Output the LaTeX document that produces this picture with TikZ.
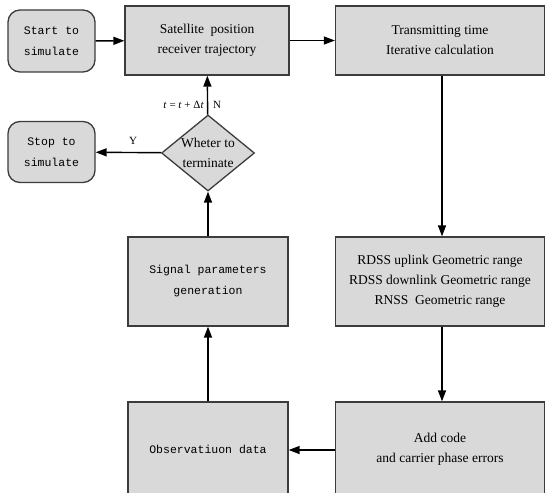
\documentclass[tikz,border=0pt]{standalone}
\usepackage{fontspec}
\setmainfont{Liberation Serif}
\setmonofont{Liberation Mono}
\usetikzlibrary{shapes.geometric,arrows.meta}
\definecolor{boxfill}{RGB}{217,217,217}
\definecolor{boxline}{RGB}{60,60,60}
\tikzset{
  box/.style={draw=boxline, line width=1.3pt, fill=boxfill, inner sep=0pt, align=center,
    font=\fontsize{13.5}{20}\selectfont},
  monobox/.style={box, font=\ttfamily\fontsize{11.5}{21}\selectfont},
  roundbox/.style={monobox, rounded corners=12pt},
  decision/.style={box, shape=diamond, aspect=1.22, minimum width=93pt, minimum height=76pt,
    font=\fontsize{13.5}{20}\selectfont},
  flow/.style={line width=1.4pt, -{Triangle[length=11pt,width=8pt]}},
  lbl/.style={inner sep=0pt, font=\fontsize{11}{12}\selectfont}
}
\begin{document}
\begin{tikzpicture}[x=1pt,y=-1pt]
\useasboundingbox (0,0) rectangle (545,492);
\clip (0,0) rectangle (545,492);
\node[roundbox, minimum width=87pt, minimum height=62pt] (start) at (51.5,41) {Start to\\simulate};
\node[box, minimum width=164pt, minimum height=69pt] (sat) at (207,40.5) {Satellite\ \ position\\receiver trajectory};
\node[box, minimum width=209pt, minimum height=69pt] (trans) at (440,40.5) {Transmitting time\\Iterative calculation};
\node[roundbox, minimum width=87pt, minimum height=61pt] (stop) at (51.5,152) {Stop to\\simulate};
\node[decision] (dec) at (208,153) {Wheter to\\terminate};
\node[monobox, minimum width=160pt, minimum height=89pt] (sig) at (208,281.5) {Signal parameters\\generation};
\node[box, minimum width=209pt, minimum height=89pt] (rdss) at (440,281.5) {RDSS uplink Geometric range\\RDSS downlink Geometric range\\RNSS\ \ Geometric range};
\node[monobox, minimum width=160pt, minimum height=94pt] (obs) at (208,449) {Observatiuon data};
\node[box, minimum width=209pt, minimum height=94pt] (add) at (440,449) {Add code\\and carrier phase errors};
\draw[flow] (start) -- (sat);
\draw[flow] (sat) -- (trans);
\draw[flow] ([xshift=2pt]trans.south) -- ([xshift=2pt]rdss.north);
\draw[flow] ([xshift=2pt]rdss.south) -- ([xshift=2pt]add.north);
\draw[flow] ([yshift=-1pt]add.west) -- ([yshift=-1pt]obs.east);
\draw[flow] (obs) -- (sig);
\draw[flow] (sig) -- (dec);
\draw[flow] (dec) -- (sat);
\draw[flow] (dec) -- (stop);
\node[lbl, anchor=east] (tl) at (204,105) {\textit{t} = \textit{t} + Δ\textit{t}};
\node[lbl, anchor=west] (nl) at (213,105) {N};
\node[lbl] (yl) at (133,141) {Y};
\end{tikzpicture}
\end{document}
